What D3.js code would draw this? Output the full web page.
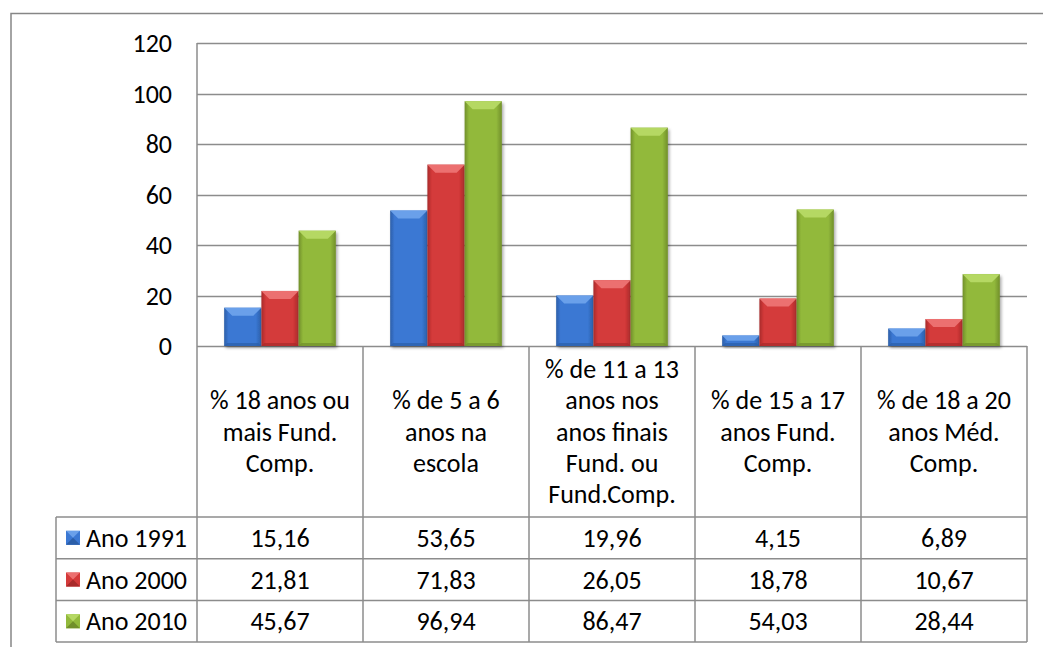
<!DOCTYPE html>
<html lang="pt">
<head>
<meta charset="utf-8">
<title>Indicadores de escolaridade</title>
<script src="https://cdn.jsdelivr.net/npm/d3@7"></script>
<style>
  body { margin: 0; background: #fff; }
  svg text { font-family: Calibri, Carlito, Lato, "Noto Sans", sans-serif; fill: #000; }
</style>
</head>
<body>
<div id="chart"></div>
<script>
// data
var categories = [
  ["% 18 anos ou", "mais Fund.", "Comp."],
  ["% de 5 a 6", "anos na", "escola"],
  ["% de 11 a 13", "anos nos", "anos finais", "Fund. ou", "Fund.Comp."],
  ["% de 15 a 17", "anos Fund.", "Comp."],
  ["% de 18 a 20", "anos Méd.", "Comp."]
]
var seriesNames = ["Ano 1991", "Ano 2000", "Ano 2010"]
var ano1991 = [15.16, 53.65, 19.96, 4.15, 6.89]
var ano2000 = [21.81, 71.83, 26.05, 18.78, 10.67]
var ano2010 = [45.67, 96.94, 86.47, 54.03, 28.44]
var yTicks = [0, 20, 40, 60, 80, 100, 120]

var series = [ano1991, ano2000, ano2010]
var colors = [
  { main: "#3b78d3", light: "#6aa0ea", dark: "#2b5ea8" },
  { main: "#d43a3a", light: "#ec7070", dark: "#a82a2a" },
  { main: "#92b93b", light: "#b5d863", dark: "#718f2b" }
]

var width = 1043, height = 647
var plotLeft = 197, plotRight = 1027, plotTop = 43, plotBottom = 346
var headerBottom = 517, rowH = 41.7, legendLeft = 56
var fontSize = "26px"

var svg = d3.select("#chart").append("svg")
  .attr("width", width)
  .attr("height", height)

var defs = svg.append("defs")
var shadow = defs.append("filter").attr("id", "shadow")
  .attr("x", "-20%").attr("y", "-20%").attr("width", "140%").attr("height", "140%")
shadow.append("feDropShadow")
  .attr("dx", 1.5).attr("dy", 2).attr("stdDeviation", 1.5)
  .attr("flood-color", "#000").attr("flood-opacity", 0.35)

colors.forEach(function(c, i) {
  var g = defs.append("linearGradient").attr("id", "grad" + i)
    .attr("x1", 0).attr("x2", 1).attr("y1", 0).attr("y2", 0)
  g.append("stop").attr("offset", "0%").attr("stop-color", c.dark)
  g.append("stop").attr("offset", "12%").attr("stop-color", c.main)
  g.append("stop").attr("offset", "85%").attr("stop-color", c.main)
  g.append("stop").attr("offset", "100%").attr("stop-color", c.dark)
})

// outer chart frame (only top and left visible)
svg.append("path")
  .attr("d", "M11,647 V13.5 H1043")
  .attr("fill", "none")
  .attr("stroke", "#868686")
  .attr("stroke-width", 1.5)

var x = d3.scaleBand()
  .domain(d3.range(categories.length))
  .range([plotLeft, plotRight])

var y = d3.scaleLinear()
  .domain([0, 120])
  .range([plotBottom, plotTop])

var xInner = d3.scaleBand()
  .domain(d3.range(series.length))
  .range([0, x.bandwidth()])
  .paddingOuter(0.73)

// gridlines
svg.append("g")
  .selectAll("line")
  .data(yTicks)
  .enter()
  .append("line")
    .attr("x1", plotLeft)
    .attr("x2", plotRight)
    .attr("y1", function(d){ return Math.round(y(d)) + 0.5 })
    .attr("y2", function(d){ return Math.round(y(d)) + 0.5 })
    .attr("stroke", "#8c8c8c")
    .attr("stroke-width", 1.5)

// y tick labels
svg.append("g")
  .selectAll("text")
  .data(yTicks)
  .enter()
  .append("text")
    .attr("x", 172)
    .attr("y", function(d){ return y(d) })
    .attr("dy", "0.35em")
    .attr("text-anchor", "end")
    .style("font-size", fontSize)
    .text(function(d){ return d })

// bars
var bars = svg.append("g")
series.forEach(function(vals, si) {
  var c = colors[si]
  vals.forEach(function(v, ci) {
    var bx = x(ci) + xInner(si)
    var bw = xInner.bandwidth()
    var by = y(v)
    var bh = plotBottom - by
    var b = Math.min(8, bh / 2)
    var g = bars.append("g")
    g.append("rect")
      .attr("x", bx).attr("y", by)
      .attr("width", bw).attr("height", bh)
      .attr("fill", "url(#grad" + si + ")")
      .attr("filter", "url(#shadow)")
    // top bevel
    g.append("path")
      .attr("d", "M" + bx + "," + by + " H" + (bx + bw) + " L" + (bx + bw - b) + "," + (by + b) +
        " H" + (bx + b) + " Z")
      .attr("fill", c.light)
    // bottom edge
    var e = Math.min(3, b)
    g.append("path")
      .attr("d", "M" + bx + "," + plotBottom + " H" + (bx + bw) + " L" + (bx + bw - e) + "," + (plotBottom - e) +
        " H" + (bx + e) + " Z")
      .attr("fill", c.dark)
      .attr("opacity", 0.7)
  })
})

// data table
var table = svg.append("g")
var lineColor = "#8c8c8c"
var rowsBottom = headerBottom + rowH * series.length

// vertical lines
d3.range(categories.length + 1).forEach(function(i) {
  var xx = i < categories.length ? x(i) : plotRight
  table.append("line")
    .attr("x1", xx).attr("x2", xx)
    .attr("y1", i === 0 ? plotTop : plotBottom).attr("y2", rowsBottom)
    .attr("stroke", lineColor).attr("stroke-width", 1.5)
})
table.append("line")
  .attr("x1", legendLeft).attr("x2", legendLeft)
  .attr("y1", headerBottom).attr("y2", rowsBottom)
  .attr("stroke", lineColor).attr("stroke-width", 1.5)

// horizontal lines
d3.range(series.length + 1).forEach(function(r) {
  var yy = headerBottom + r * rowH
  table.append("line")
    .attr("x1", legendLeft).attr("x2", plotRight)
    .attr("y1", yy).attr("y2", yy)
    .attr("stroke", lineColor).attr("stroke-width", 1.5)
})

// category headers
categories.forEach(function(lines, ci) {
  var cx = x(ci) + x.bandwidth() / 2
  var cy = (plotBottom + headerBottom) / 2
  var lh = 31.3
  var t = table.append("text")
    .attr("text-anchor", "middle")
    .style("font-size", fontSize)
  lines.forEach(function(l, li) {
    t.append("tspan")
      .attr("x", cx)
      .attr("y", cy + (li - (lines.length - 1) / 2) * lh)
      .attr("dy", "0.35em")
      .text(l)
  })
})

// legend keys + values
var fmt = function(v){ return v.toFixed(2).replace(".", ",") }
series.forEach(function(vals, si) {
  var c = colors[si]
  var cy = headerBottom + si * rowH + rowH / 2
  var kx = 66, ky = cy - 7, ks = 14
  table.append("rect")
    .attr("x", kx).attr("y", ky).attr("width", ks).attr("height", ks)
    .attr("fill", c.main)
  table.append("path")
    .attr("d", "M" + kx + "," + ky + " H" + (kx + ks) + " L" + (kx + ks / 2) + "," + (ky + ks / 2) + " Z")
    .attr("fill", c.light)
  table.append("path")
    .attr("d", "M" + kx + "," + (ky + ks) + " H" + (kx + ks) + " L" + (kx + ks / 2) + "," + (ky + ks / 2) + " Z")
    .attr("fill", c.dark)
  table.append("text")
    .attr("x", 86).attr("y", cy).attr("dy", "0.35em")
    .style("font-size", fontSize)
    .text(seriesNames[si])
  vals.forEach(function(v, ci) {
    table.append("text")
      .attr("x", x(ci) + x.bandwidth() / 2)
      .attr("y", cy).attr("dy", "0.35em")
      .attr("text-anchor", "middle")
      .style("font-size", fontSize)
      .text(fmt(v))
  })
})
</script>
</body>
</html>
